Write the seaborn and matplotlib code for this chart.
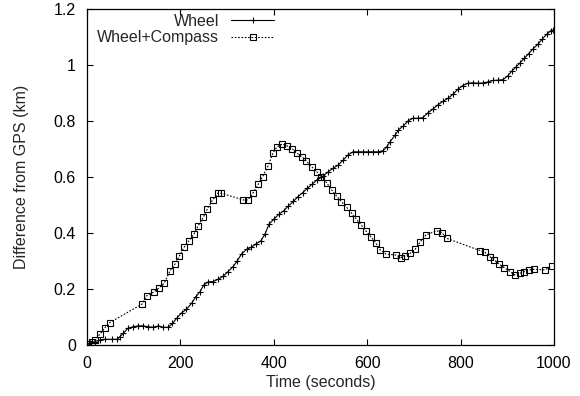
import matplotlib
matplotlib.use("Agg")
import matplotlib.pyplot as plt
import matplotlib.ticker as mticker
import seaborn as sns
import pandas as pd

# Wheel (+ markers)
wheel_t = [0, 6, 17, 28, 38, 53, 64, 71, 78, 88, 99, 110, 120, 131, 142, 153, 163, 174,
           183, 192, 203, 213, 224, 233, 242, 250, 260, 270, 281, 292, 302, 313, 322, 331,
           342, 352, 362, 372, 381, 390, 400, 411, 422, 431, 442, 452, 462, 472, 482, 492,
           502, 506, 517, 527, 538, 549, 559, 570, 581, 592, 602, 613, 624, 634, 642, 649,
           660, 667, 677, 688, 698, 709, 719, 730, 741, 751, 762, 773, 784, 794, 805, 816,
           827, 837, 848, 859, 869, 880, 891, 901, 910, 919, 927, 937, 946, 956, 966, 975,
           985, 994, 998]
wheel_km = [0.0, 0.006, 0.012, 0.018, 0.020, 0.020, 0.020, 0.030, 0.042, 0.060, 0.065, 0.068,
            0.068, 0.065, 0.063, 0.068, 0.063, 0.063, 0.077, 0.095, 0.115, 0.127, 0.149, 0.172,
            0.190, 0.214, 0.226, 0.226, 0.235, 0.246, 0.262, 0.280, 0.301, 0.325, 0.342, 0.349,
            0.361, 0.371, 0.395, 0.432, 0.449, 0.467, 0.480, 0.496, 0.513, 0.530, 0.544, 0.560,
            0.574, 0.589, 0.599, 0.604, 0.619, 0.631, 0.643, 0.661, 0.679, 0.690, 0.690, 0.690,
            0.690, 0.690, 0.690, 0.694, 0.708, 0.726, 0.750, 0.768, 0.782, 0.801, 0.810, 0.810,
            0.812, 0.829, 0.843, 0.857, 0.870, 0.881, 0.896, 0.913, 0.927, 0.935, 0.937, 0.935,
            0.936, 0.940, 0.945, 0.946, 0.948, 0.961, 0.979, 0.993, 1.007, 1.025, 1.041, 1.059,
            1.075, 1.093, 1.111, 1.123, 1.125]

# Wheel+Compass (square markers)
compass_t = [3, 10, 17, 28, 38, 49, 118, 128, 143, 155, 165, 178, 188, 198, 208, 218, 229,
             238, 249, 258, 269, 280, 288, 335, 345, 356, 367, 376, 388, 398, 407, 418, 429,
             440, 450, 460, 470, 481, 492, 502, 513, 524, 535, 545, 556, 567, 577, 587, 597,
             608, 619, 628, 640, 662, 672, 682, 692, 703, 714, 726, 749, 760, 770, 842, 852,
             863, 872, 883, 894, 906, 916, 927, 936, 947, 957, 981, 995]
compass_km = [0.003, 0.012, 0.018, 0.039, 0.061, 0.080, 0.146, 0.176, 0.189, 0.205, 0.220,
              0.265, 0.288, 0.318, 0.349, 0.372, 0.396, 0.425, 0.456, 0.487, 0.518, 0.542,
              0.542, 0.518, 0.518, 0.544, 0.575, 0.601, 0.640, 0.685, 0.708, 0.718, 0.711,
              0.700, 0.685, 0.673, 0.657, 0.637, 0.619, 0.599, 0.580, 0.554, 0.531, 0.512,
              0.492, 0.470, 0.449, 0.429, 0.408, 0.387, 0.363, 0.339, 0.325, 0.321, 0.312,
              0.318, 0.327, 0.342, 0.369, 0.393, 0.408, 0.401, 0.381, 0.337, 0.331, 0.315,
              0.304, 0.288, 0.276, 0.262, 0.250, 0.256, 0.262, 0.268, 0.270, 0.268, 0.283]

x_ticks = [0, 200, 400, 600, 800, 1000]
y_ticks = [0, 0.2, 0.4, 0.6, 0.8, 1.0, 1.2]

sns.set_style("ticks")
plt.rcParams["font.family"] = ["Liberation Sans", "DejaVu Sans"]
plt.rcParams["font.size"] = 11.5

FS = 11.5

fig = plt.figure(figsize=(5.8, 3.96), dpi=100)
ax = fig.add_axes([0.15, 0.129, 0.805, 0.848])

df_w = pd.DataFrame({"t": wheel_t, "d": wheel_km})
df_c = pd.DataFrame({"t": compass_t, "d": compass_km})

sns.lineplot(data=df_w, x="t", y="d", ax=ax, sort=False, estimator=None,
             color="black", linewidth=0.8, marker="+", markersize=5,
             markeredgecolor="black", markeredgewidth=0.8, label="Wheel")
sns.lineplot(data=df_c, x="t", y="d", ax=ax, sort=False, estimator=None,
             color="black", linewidth=0.8, linestyle=(0, (1.5, 1.5)), marker="s",
             markersize=5, markerfacecolor="none", markeredgecolor="black",
             markeredgewidth=0.8, label="Wheel+Compass")

ax.set_xlim(0, 1000)
ax.set_ylim(0, 1.2)
ax.set_xticks(x_ticks)
ax.set_yticks(y_ticks)
fmt = mticker.FuncFormatter(lambda v, p: "%g" % v)
ax.xaxis.set_major_formatter(fmt)
ax.yaxis.set_major_formatter(fmt)
ax.tick_params(direction="in", length=4, width=0.8, top=True, right=True,
               labelsize=FS, colors="black", pad=8)
for s in ax.spines.values():
    s.set_visible(True)
    s.set_linewidth(0.9)
    s.set_color("black")

ax.set_xlabel("Time (seconds)", fontsize=FS, labelpad=3)
ax.set_ylabel("Difference from GPS (km)", fontsize=FS, labelpad=18)

leg = ax.legend(loc="upper left", bbox_to_anchor=(0.022, 0.986), frameon=False,
                markerfirst=False, handlelength=2.7, handletextpad=0.75,
                borderpad=0, borderaxespad=0, labelspacing=0.1, fontsize=FS)

fig.savefig("out.png", dpi=100)
